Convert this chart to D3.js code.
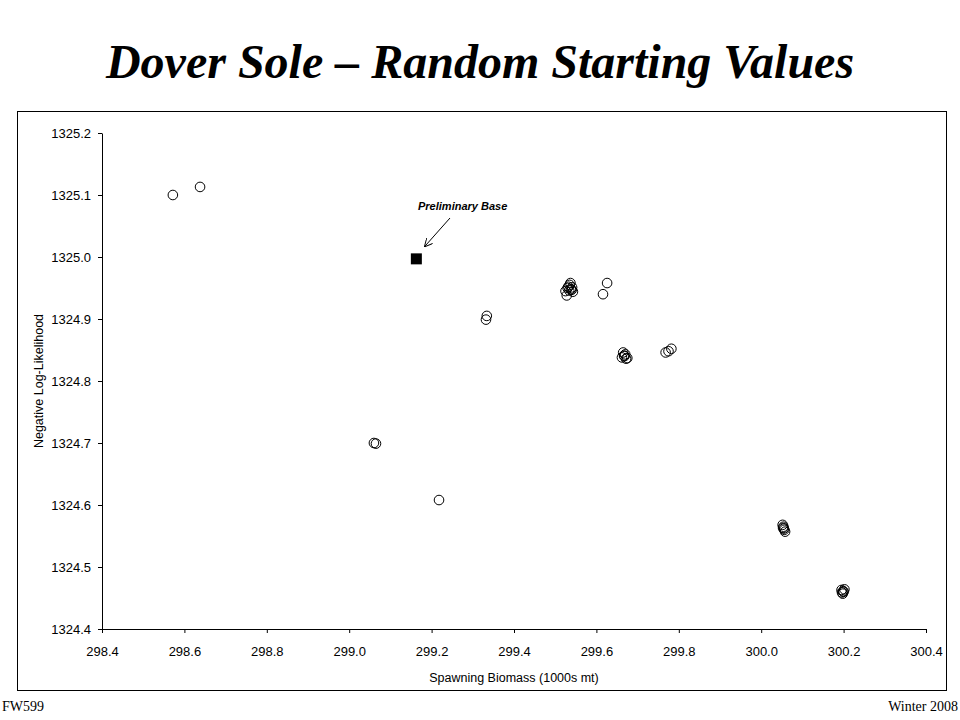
<!DOCTYPE html>
<html><head><meta charset="utf-8">
<script src="https://cdn.jsdelivr.net/npm/d3@7"></script>
<style>body{margin:0;background:#fff}</style>
</head><body>
<script>
const runX = [298.572, 298.638, 299.334, 299.332, 299.06, 299.065, 299.218,
	299.525, 299.53, 299.535, 299.54, 299.528, 299.537, 299.543, 299.532, 299.538, 299.534, 299.541,
	299.626, 299.616,
	299.665, 299.668, 299.672, 299.662, 299.67, 299.675, 299.667,
	299.768, 299.775, 299.782,
	300.052, 300.055, 300.058, 300.054, 300.056, 300.053,
	300.195, 300.2, 300.198, 300.202, 300.196, 300.199]
const runY = [1325.1, 1325.113, 1324.905, 1324.899, 1324.7, 1324.699, 1324.608,
	1324.945, 1324.95, 1324.955, 1324.947, 1324.938, 1324.958, 1324.944, 1324.952, 1324.948, 1324.946, 1324.951,
	1324.958, 1324.94,
	1324.846, 1324.84, 1324.836, 1324.838, 1324.843, 1324.837, 1324.841,
	1324.846, 1324.848, 1324.852,
	1324.568, 1324.562, 1324.557, 1324.565, 1324.56, 1324.563,
	1324.463, 1324.46, 1324.457, 1324.464, 1324.459, 1324.461]
const baseX = 299.163, baseY = 1324.997
const xTicks = [298.4, 298.6, 298.8, 299.0, 299.2, 299.4, 299.6, 299.8, 300.0, 300.2, 300.4]
const yTicks = [1324.4, 1324.5, 1324.6, 1324.7, 1324.8, 1324.9, 1325.0, 1325.1, 1325.2]

const svg = d3.select('body').append('svg').attr('width', 960).attr('height', 720)

svg.append('text').attr('x', 480).attr('y', 78).attr('text-anchor', 'middle')
	.style('font', 'italic bold 48px "Liberation Serif", serif').text('Dover Sole – Random Starting Values')

svg.append('rect').attr('x', 17.5).attr('y', 111.5).attr('width', 929).attr('height', 579)
	.attr('fill', 'none').attr('stroke', '#000')

const x = d3.scaleLinear().domain([298.4, 300.4]).range([102, 926])
const y = d3.scaleLinear().domain([1324.4, 1325.2]).range([629, 133])

svg.append('g').attr('transform', 'translate(0,629)')
	.call(d3.axisBottom(x).tickValues(xTicks).tickFormat(d3.format('.1f')).tickSize(4).tickPadding(14).tickSizeOuter(0))
	.call(g => g.selectAll('text').style('font', '13px "Liberation Sans", Arial'))
svg.append('g').attr('transform', 'translate(102,0)')
	.call(d3.axisLeft(y).tickValues(yTicks).tickFormat(d3.format('.1f')).tickSize(4).tickPadding(7).tickSizeOuter(0))
	.call(g => g.selectAll('text').style('font', '13px "Liberation Sans", Arial'))

svg.append('text').attr('x', 514).attr('y', 682).attr('text-anchor', 'middle')
	.style('font', '12.5px "Liberation Sans", Arial').text('Spawning Biomass (1000s mt)')
svg.append('text').attr('transform', 'translate(43,381) rotate(-90)').attr('text-anchor', 'middle')
	.style('font', '12.5px "Liberation Sans", Arial').text('Negative Log-Likelihood')

svg.selectAll('.run').data(runX).enter().append('circle').attr('class', 'run')
	.attr('cx', d => x(d)).attr('cy', (d, i) => y(runY[i])).attr('r', 4.8)
	.attr('fill', 'none').attr('stroke', '#000').attr('stroke-width', 1)

svg.append('rect').attr('x', x(baseX) - 5.5).attr('y', y(baseY) - 5.5).attr('width', 11).attr('height', 11).attr('fill', '#000')

svg.append('defs').append('marker').attr('id', 'ah').attr('viewBox', '0 0 10 10').attr('refX', 10).attr('refY', 5)
	.attr('markerWidth', 8).attr('markerHeight', 8).attr('orient', 'auto')
	.append('path').attr('d', 'M0,0L10,5L0,10').attr('fill', 'none').attr('stroke', '#000').attr('stroke-width', 1.2)
svg.append('line').attr('x1', 450).attr('y1', 218).attr('x2', x(baseX) + 8).attr('y2', y(baseY) - 12)
	.attr('stroke', '#000').attr('marker-end', 'url(#ah)')
svg.append('text').attr('x', 418).attr('y', 210)
	.style('font', 'italic bold 11px "Liberation Sans", Arial').text('Preliminary Base')

svg.append('text').attr('x', 2).attr('y', 711).style('font', '14px "Liberation Serif", serif').text('FW599')
svg.append('text').attr('x', 958).attr('y', 711).attr('text-anchor', 'end').style('font', '14px "Liberation Serif", serif').text('Winter 2008')
</script>
</body></html>
